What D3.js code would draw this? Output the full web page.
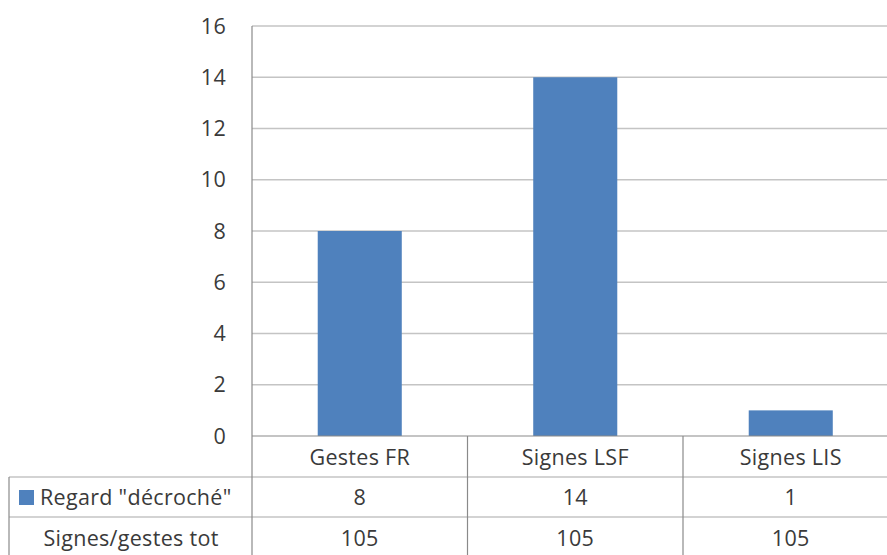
<!DOCTYPE html>
<html><head><meta charset="utf-8">
<script src="https://cdn.jsdelivr.net/npm/d3@7"></script>
<style>body{margin:0;background:#fff;overflow:hidden}svg{display:block}text{font-family:"Open Sans","Noto Sans",sans-serif;fill:#3a3a3a;letter-spacing:0.3px}</style>
</head><body>
<script>
const categories = ["Gestes FR", "Signes LSF", "Signes LIS"];
const regardValues = [8, 14, 1];
const totalValues = [105, 105, 105];
const seriesName = 'Regard "décroché"';
const totalName = "Signes/gestes tot";
const yTicks = [0, 2, 4, 6, 8, 10, 12, 14, 16];

const W = 887, H = 555, FS = 21.5;
const svg = d3.select("body").append("svg").attr("width", W).attr("height", H);

const x = d3.scaleBand().domain(categories).range([252, 898.5]).padding(0);
const y = d3.scaleLinear().domain([0, 16]).range([436, 26]);
const rows = [477, 517, 556];
const gridColor = "#c4c4c4", axisColor = "#8a8a8a";

// gridlines
svg.append("g").selectAll("line").data(yTicks.filter(d => d > 0)).join("line")
  .attr("x1", 252).attr("x2", 898.5)
  .attr("y1", d => y(d)).attr("y2", d => y(d))
  .attr("stroke", gridColor).attr("stroke-width", 1.5);

// y tick labels
svg.append("g").selectAll("text").data(yTicks).join("text")
  .attr("x", 226).attr("y", d => y(d)).attr("dy", "0.36em")
  .attr("text-anchor", "end").attr("font-size", FS).text(d => d);

// bars
const bw = x.bandwidth() * 0.39;
svg.append("g").selectAll("rect").data(regardValues).join("rect")
  .attr("x", (d, i) => x(categories[i]) + x.bandwidth() / 2 - bw / 2)
  .attr("width", bw)
  .attr("y", d => y(d)).attr("height", d => y(0) - y(d))
  .attr("fill", "#4f81bd");

// table lines
const g = svg.append("g").attr("stroke", axisColor).attr("stroke-width", 1.2);
g.append("line").attr("x1", 252).attr("x2", 898).attr("y1", y(0)).attr("y2", y(0));
rows.forEach(r => g.append("line").attr("x1", 9).attr("x2", 898).attr("y1", r).attr("y2", r).attr("stroke", gridColor).attr("stroke-width", 1.5));
g.append("line").attr("x1", 9).attr("x2", 9).attr("y1", rows[0]).attr("y2", 556);
g.append("line").attr("x1", 252).attr("x2", 252).attr("y1", y(16)).attr("y2", 556);
categories.slice(1).forEach(c => g.append("line").attr("x1", x(c)).attr("x2", x(c)).attr("y1", y(0)).attr("y2", 556));

// category labels
svg.append("g").selectAll("text").data(categories).join("text")
  .attr("x", d => x(d) + x.bandwidth() / 2).attr("y", 457).attr("dy", "0.36em")
  .attr("text-anchor", "middle").attr("font-size", FS).text(d => d);

// row 1
svg.append("rect").attr("x", 19).attr("y", 490).attr("width", 15).attr("height", 15).attr("fill", "#4f81bd");
svg.append("text").attr("x", 40).attr("y", 497).attr("dy", "0.36em").attr("font-size", FS).text(seriesName);
svg.append("g").selectAll("text").data(regardValues).join("text")
  .attr("x", (d, i) => x(categories[i]) + x.bandwidth() / 2).attr("y", 497).attr("dy", "0.36em")
  .attr("text-anchor", "middle").attr("font-size", FS).text(d => d);

// row 2
svg.append("text").attr("x", 131).attr("y", 538).attr("dy", "0.36em").attr("text-anchor", "middle").attr("font-size", FS).text(totalName);
svg.append("g").selectAll("text").data(totalValues).join("text")
  .attr("x", (d, i) => x(categories[i]) + x.bandwidth() / 2).attr("y", 538).attr("dy", "0.36em")
  .attr("text-anchor", "middle").attr("font-size", FS).text(d => d);
</script>
</body></html>
